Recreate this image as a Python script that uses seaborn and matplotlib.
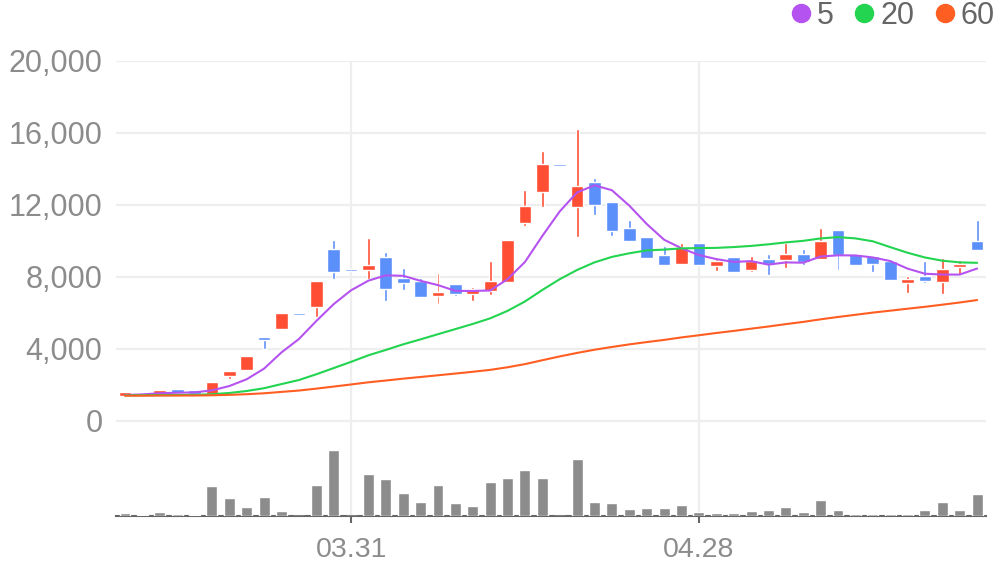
# candlestick chart with moving averages and volume

import numpy as np
import pandas as pd
import matplotlib.pyplot as plt
import seaborn as sns
from matplotlib.lines import Line2D

# data
dates = pd.bdate_range("2023-03-14", periods=50).strftime("%m.%d").tolist()

opens = [1390, 1400, 1400, 1780, 1720, 1500, 2500, 2830, 4670, 5130,
         5980, 6350, 9560, 8430, 8370, 9110, 7930, 7800, 6960, 7610,
         7070, 7240, 7740, 11020, 12740, 14280, 11910, 13280, 12170, 10720,
         10220, 9220, 8720, 9890, 8630, 9110, 8370, 9000, 8940, 9280,
         9000, 10610, 9280, 9170, 8890, 7680, 8060, 7740, 8560, 10000]
highs = [1610, 1580, 1720, 1780, 1720, 2170, 2780, 3610, 4670, 6000,
         5980, 7780, 10060, 8430, 10170, 9390, 8480, 7940, 8220, 7610,
         7440, 8890, 10060, 12830, 15000, 14280, 16220, 13500, 12170, 11170,
         10280, 9720, 9890, 9890, 8980, 9170, 9170, 9280, 9890, 9560,
         10720, 10610, 9280, 9170, 8890, 8060, 8890, 9060, 8940, 11170]
lows = [1390, 1400, 1400, 1540, 1500, 1500, 2330, 2830, 4000, 5130,
        5880, 5800, 7900, 8350, 7900, 6650, 7280, 6900, 6520, 6940,
        6680, 7020, 7740, 10850, 11890, 14150, 10240, 11460, 10300, 10020,
        9020, 8610, 8670, 8670, 8330, 8280, 8280, 8110, 8500, 8670,
        9000, 8390, 8630, 8280, 7780, 7110, 7670, 7060, 8110, 9500]
closes = [1610, 1580, 1720, 1540, 1500, 2170, 2780, 3610, 4500, 6000,
          5880, 7780, 8300, 8350, 8680, 7350, 7650, 6900, 7170, 7070,
          7330, 7780, 10060, 11940, 14300, 14150, 13060, 12020, 10570, 10020,
          9070, 8670, 9670, 8670, 8900, 8280, 8890, 8700, 9280, 8820,
          10000, 9220, 8670, 8720, 7830, 7890, 7800, 8440, 8720, 9500]
volume = [27, 7, 40, 17, 7, 297, 177, 87, 187, 50,
          0, 310, 657, 0, 417, 367, 227, 137, 307, 127,
          97, 337, 377, 457, 377, 0, 567, 137, 127, 67,
          77, 77, 107, 37, 27, 27, 47, 57, 87, 37,
          157, 57, 17, 17, 17, 17, 57, 137, 57, 217]

ma5 = [1442, 1478, 1542, 1570, 1590, 1702, 1942, 2320, 2912, 3812,
       4554, 5554, 6492, 7262, 7798, 8092, 8066, 7786, 7550, 7228,
       7224, 7250, 7882, 8836, 10282, 11646, 12702, 13094, 12820, 11964,
       10948, 10070, 9600, 9220, 8996, 8838, 8882, 8688, 8810, 8794,
       9138, 9204, 9198, 9086, 8888, 8466, 8182, 8136, 8136, 8470]
ma20 = [1420, 1430, 1440, 1445, 1450, 1488, 1557, 1667, 1822, 2052,
        2276, 2595, 2940, 3287, 3651, 3949, 4261, 4536, 4824, 5107,
        5393, 5703, 6120, 6640, 7280, 7879, 8393, 8814, 9117, 9318,
        9478, 9522, 9591, 9607, 9618, 9664, 9726, 9816, 9922, 10009,
        10143, 10215, 10145, 9984, 9661, 9348, 9085, 8906, 8813, 8787]
ma60 = [1404, 1407, 1412, 1414, 1416, 1429, 1452, 1489, 1540, 1617,
        1692, 1798, 1913, 2029, 2150, 2249, 2353, 2445, 2541, 2636,
        2735, 2841, 2985, 3161, 3376, 3588, 3783, 3960, 4113, 4256,
        4384, 4505, 4643, 4764, 4889, 5004, 5129, 5250, 5382, 5505,
        5649, 5779, 5900, 6022, 6129, 6238, 6344, 6462, 6584, 6719]

ma_names = ["5", "20", "60"]
yticks = [0, 4000, 8000, 12000, 16000, 20000]
xtick_labels = ["03.31", "04.28"]

up_color = "#FF4E33"
down_color = "#5B8FF9"
ma_colors = ["#B553F0", "#22D44F", "#FF5E22"]

sns.set_theme(style="white")
plt.rcParams["font.family"] = ["Liberation Sans", "DejaVu Sans"]

df = pd.DataFrame({"date": dates, "open": opens, "high": highs, "low": lows,
                   "close": closes, "volume": volume,
                   "ma5": ma5, "ma20": ma20, "ma60": ma60})
df["i"] = np.arange(len(df))
up = df["close"] >= df["open"]
colors = np.where(up, up_color, down_color)
body_bottom = df[["open", "close"]].min(axis=1)
body_height = (df["close"] - df["open"]).abs().clip(lower=110)

W, H = 996, 567
fig = plt.figure(figsize=(W / 100, H / 100), dpi=100)
left = 116.3 / W
width = 869.5 / W
ax = fig.add_axes([left, (H - 516) / H, width, (516 - 61) / H])
axv = fig.add_axes([left, (H - 516) / H, width, (516 - 440) / H])

# candles
ax.bar(df["i"], df["high"] - df["low"], bottom=df["low"], width=0.17,
       color=colors, zorder=3)
ax.bar(df["i"], body_height, bottom=body_bottom, width=0.73,
       color=colors, zorder=3)

# moving averages
for col, c in zip(["ma5", "ma20", "ma60"], ma_colors):
    sns.lineplot(data=df, x="i", y=col, ax=ax, color=c, lw=1.5, zorder=4)

ax.set_xlim(-0.5, len(df) - 0.5)
ax.set_ylim(-95 * 20000 / 360, 20000)
ax.set_yticks(yticks)
ax.set_yticklabels([f"{v:,}" for v in yticks])
tick_pos = [dates.index(d) for d in xtick_labels]
ax.set_xticks(tick_pos)
ax.set_xticklabels(xtick_labels)
ax.set_xlabel("")
ax.set_ylabel("")
ax.grid(True, color="#EEEEEE", lw=1.6)
ax.set_axisbelow(True)
for s in ["left", "right", "top"]:
    ax.spines[s].set_visible(False)
ax.spines["bottom"].set_color("#666666")
ax.spines["bottom"].set_linewidth(1.5)
ax.tick_params(axis="x", length=5, width=1.5, color="#666666",
               labelsize=20.5, labelcolor="#8C8C8C", pad=10, bottom=True)
ax.tick_params(axis="y", length=0, labelsize=22, labelcolor="#8C8C8C", pad=10)

# volume
sns.barplot(data=df, x="i", y="volume", ax=axv, color="#8C8C8C",
            width=0.63, saturation=1)
axv.set_xlim(-0.5, len(df) - 0.5)
axv.set_ylim(0, max(volume) * 76 / 65.7)
axv.axis("off")
axv.patch.set_visible(False)

# legend
handles = [Line2D([], [], marker="o", linestyle="", color=c, markersize=13)
           for c in ma_colors]
fig.legend(handles, ma_names, loc="upper right",
           bbox_to_anchor=(995 / W, 1 - 1 / H),
           ncol=3, frameon=False, fontsize=22, handletextpad=0.23,
           columnspacing=0.69, handlelength=0.6, borderaxespad=0,
           borderpad=0, labelcolor="#666666")

plt.savefig("out.png", dpi=100)
